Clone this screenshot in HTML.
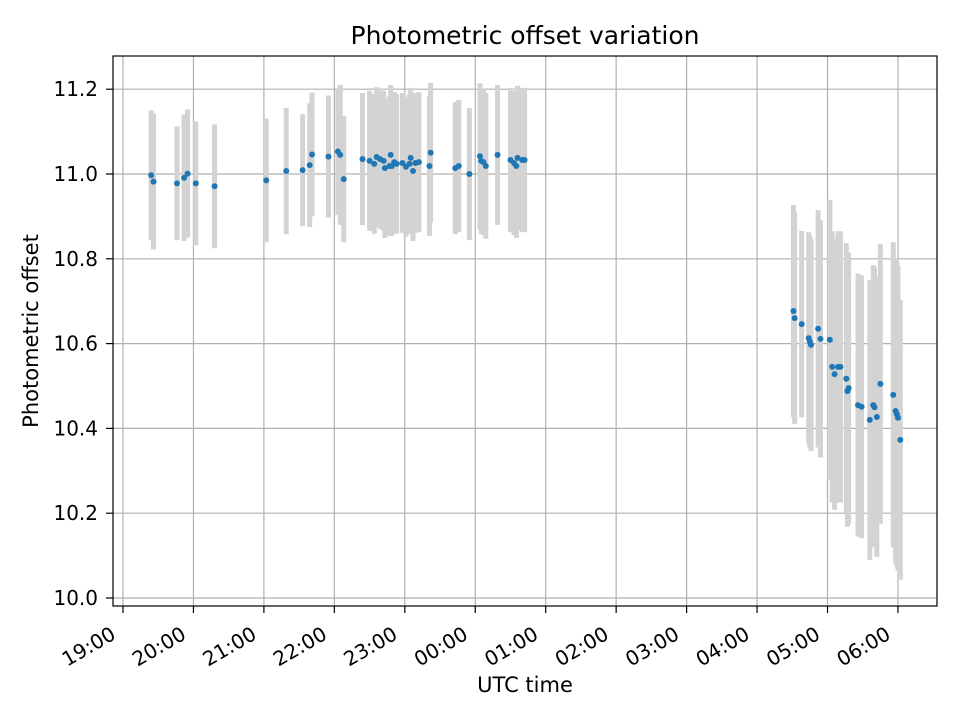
<!DOCTYPE html>
<html><head><meta charset="utf-8"><style>
body{margin:0;background:#fff;font-family:"DejaVu Sans","Liberation Sans",sans-serif}
svg text{font-family:"DejaVu Sans","Liberation Sans",sans-serif}
</style></head><body>
<svg id="chart" width="960" height="720" xmlns="http://www.w3.org/2000/svg">
<rect width="960" height="720" fill="#fff"/>
<g id="grid"></g><g id="errs"></g><g id="pts"></g><g id="axes"></g>
<text x="525" y="44" text-anchor="middle" font-size="25">Photometric offset variation</text>
<text x="525" y="692" text-anchor="middle" font-size="21">UTC time</text>
<text transform="translate(38,331) rotate(-90)" text-anchor="middle" font-size="21">Photometric offset</text>
</svg>
<script>
const times=["19:24","19:26","19:46","19:52","19:55","20:02","20:18","21:02","21:19","21:33","21:39","21:41","21:55","22:03","22:05","22:08","22:24","22:30","22:34","22:36","22:39","22:42","22:43","22:47","22:48","22:49","22:51","22:53","22:58","23:01","23:04","23:05","23:07","23:09","23:12","23:22","23:21","23:43","23:46","23:55","00:04","00:05","00:07","00:09","00:19","00:30","00:33","00:35","00:36","00:40","00:42","04:31","04:32","04:38","04:44","04:45","04:46","04:52","04:54","05:02","05:04","05:06","05:09","05:11","05:16","05:17","05:18","05:26","05:29","05:36","05:39","05:40","05:42","05:45","05:56","05:58","05:59","06:00","06:02"];
const values=[10.997,10.982,10.978,10.991,11.001,10.978,10.971,10.985,11.007,11.009,11.021,11.046,11.041,11.053,11.045,10.988,11.035,11.031,11.024,11.040,11.035,11.031,11.014,11.019,11.045,11.019,11.028,11.024,11.026,11.017,11.024,11.038,11.007,11.026,11.028,11.050,11.019,11.014,11.019,11.000,11.042,11.031,11.028,11.019,11.045,11.033,11.026,11.019,11.038,11.033,11.033,10.677,10.660,10.646,10.613,10.604,10.597,10.635,10.611,10.609,10.545,10.528,10.545,10.545,10.517,10.488,10.495,10.455,10.451,10.420,10.455,10.450,10.427,10.505,10.479,10.441,10.434,10.425,10.373];
const errors=[0.153,0.16,0.134,0.149,0.151,0.146,0.146,0.146,0.149,0.132,0.146,0.146,0.144,0.149,0.165,0.149,0.156,0.165,0.165,0.165,0.165,0.165,0.165,0.165,0.165,0.165,0.165,0.165,0.165,0.165,0.165,0.165,0.165,0.165,0.165,0.165,0.165,0.156,0.156,0.156,0.172,0.172,0.172,0.172,0.165,0.17,0.17,0.17,0.17,0.17,0.17,0.25,0.25,0.22,0.25,0.25,0.25,0.28,0.28,0.33,0.32,0.32,0.32,0.32,0.32,0.32,0.32,0.31,0.31,0.33,0.33,0.33,0.33,0.33,0.36,0.36,0.36,0.36,0.33];
const yTicks=[10.0,10.2,10.4,10.6,10.8,11.0,11.2];
const xTicks=["19:00","20:00","21:00","22:00","23:00","00:00","01:00","02:00","03:00","04:00","05:00","06:00"];
const L=113,R=937,T=56,B=606;
function hrs(s){let [h,m]=s.split(":").map(Number);let v=h+m/60-19;if(v<-1)v+=24;return v;}
function X(s){return 123+hrs(s)*70.45;}
function Y(v){return 174-(v-11.0)*424.0;}
const NS="http://www.w3.org/2000/svg";
function mk(tag,attrs,parent){const e=document.createElementNS(NS,tag);for(const k in attrs)e.setAttribute(k,attrs[k]);parent.appendChild(e);return e;}
const grid=document.getElementById('grid'),errs=document.getElementById('errs'),pts=document.getElementById('pts'),axes=document.getElementById('axes');
yTicks.forEach(t=>{const y=Y(t);
 const g=mk('line',{x1:L,x2:R,y1:y,y2:y,stroke:'#b0b0b0','stroke-width':1.2},grid);
 
 
 mk('line',{x1:L-7,x2:L,y1:y,y2:y,stroke:'#000','stroke-width':1.2},axes);
 const tx=mk('text',{x:L-15,y:y+7,'text-anchor':'end','font-size':20},axes);tx.textContent=t.toFixed(1);
 
 
});
xTicks.forEach(t=>{const x=X(t);
 const g=mk('line',{x1:x,x2:x,y1:T,y2:B,stroke:'#b0b0b0','stroke-width':1.2},grid);
 
 
 mk('line',{x1:x,x2:x,y1:B,y2:B+7,stroke:'#000','stroke-width':1.2},axes);
 const px=x-6,py=B+32;
 const tx=mk('text',{x:px,y:py,'text-anchor':'end','font-size':20,transform:`rotate(-30 ${px} ${py})`},axes);tx.textContent=t;
 
 
});
mk('rect',{x:L,y:T,width:R-L,height:B-T,fill:'none',stroke:'#000','stroke-width':1.2},axes);
times.forEach((t,i)=>{const x=X(t);
 const e=mk('line',{x1:x,x2:x,y1:Y(values[i]+errors[i]),y2:Y(values[i]-errors[i]),stroke:'#d3d3d3','stroke-width':5},errs);
 
 
 const c=mk('circle',{cx:x,cy:Y(values[i]),r:3,fill:'#1f77b4'},pts);
 
 
});
</script>
</body></html>
